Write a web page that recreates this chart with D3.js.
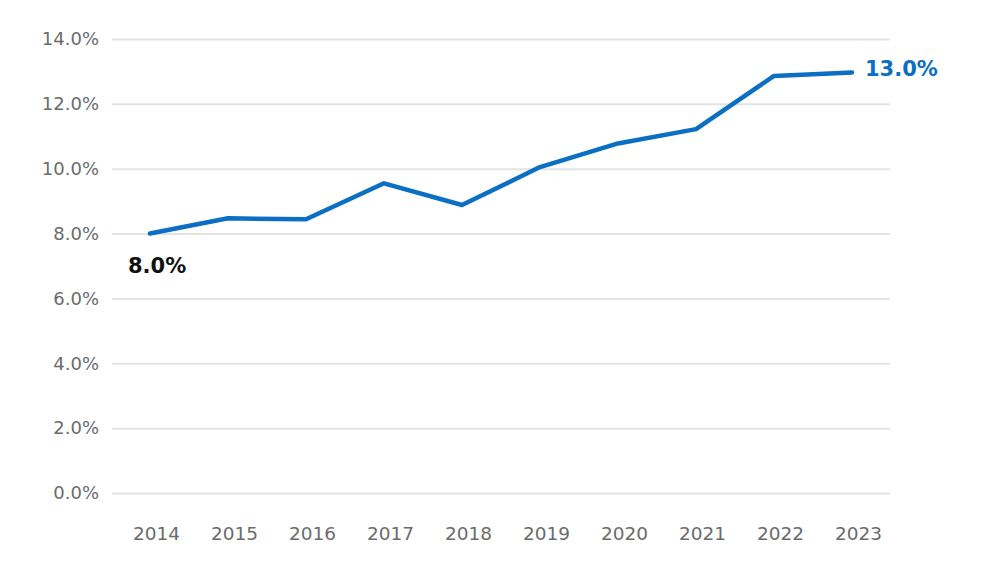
<!DOCTYPE html>
<html><head><meta charset="utf-8">
<script src="https://cdn.jsdelivr.net/npm/d3@7"></script>
<style>body{margin:0;background:#fff;} svg{display:block;}</style>
</head><body>
<svg id="chart" width="982" height="569"></svg>
<script>
const years = ["2014","2015","2016","2017","2018","2019","2020","2021","2022","2023"];
const values = [8.0, 8.47, 8.44, 9.55, 8.88, 10.05, 10.78, 11.22, 12.86, 12.97];
const yTicks = [0, 2, 4, 6, 8, 10, 12, 14];
const startLabel = "8.0%";
const endLabel = "13.0%";

const svg = d3.select("#chart");
const x = d3.scalePoint().domain(years).range([150, 852]);
const y = d3.scaleLinear().domain([0, 14]).range([493, 39]);
const font = "'DejaVu Sans', sans-serif";

// gridlines + y labels
const yAxis = d3.axisLeft(y).tickValues(yTicks).tickSize(-(890 - 112)).tickPadding(13)
  .tickFormat(d => d.toFixed(1) + "%");
const gy = svg.append("g").attr("transform", "translate(112,0)").call(yAxis);
gy.select(".domain").remove();
gy.selectAll(".tick line").attr("stroke", "#e3e3e3").attr("stroke-width", 2);
gy.selectAll(".tick text").attr("fill", "#6b6b6b").style("font-family", font).style("font-size", "18px");

// x labels
const xAxis = d3.axisBottom(x).tickSize(0).tickPadding(0);
const gx = svg.append("g").attr("transform", "translate(6,534)").call(xAxis);
gx.select(".domain").remove();
gx.selectAll(".tick text").attr("fill", "#6b6b6b").attr("dy", "0.35em")
  .style("font-family", font).style("font-size", "18.5px");

// line
const line = d3.line().x((d, i) => x(years[i])).y(d => y(d));
svg.append("path").datum(values).attr("d", line).attr("fill", "none")
  .attr("stroke", "#0b6fc4").attr("stroke-width", 4.5)
  .attr("stroke-linejoin", "round").attr("stroke-linecap", "round");

// annotations
svg.append("text").attr("x", x(years[0]) - 22).attr("y", y(values[0]) + 39)
  .attr("fill", "#111").style("font-family", font).style("font-weight", "bold")
  .style("font-size", "21px").text(startLabel);
svg.append("text").attr("x", x(years[years.length - 1]) + 13).attr("y", y(values[values.length - 1]) - 4)
  .attr("dy", "0.35em").attr("fill", "#0b6fc4").style("font-family", font).style("font-weight", "bold")
  .style("font-size", "21px").text(endLabel);
</script>
</body></html>
